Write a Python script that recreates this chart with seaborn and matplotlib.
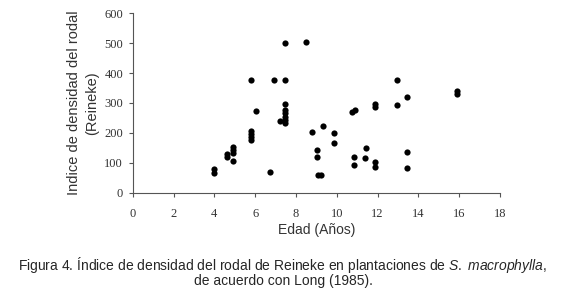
import pandas as pd
import matplotlib.pyplot as plt
import seaborn as sns

# Edad (años) vs. índice de densidad del rodal (Reineke)
edad = [4.0, 4.0, 4.6, 4.6, 4.9, 4.9, 4.9, 4.9,
        5.8, 5.8, 5.8, 5.8, 5.8, 6.05, 6.75, 6.9,
        7.45, 7.45, 7.45, 7.45, 7.45, 7.45, 7.45, 7.45, 7.2,
        8.5, 8.8, 9.05, 9.05, 9.1, 9.25, 9.3, 9.85, 9.85,
        10.75, 10.9, 10.85, 10.85, 11.4, 11.45,
        11.85, 11.85, 11.85, 11.85, 12.95, 12.95,
        13.45, 13.45, 13.45, 15.9, 15.9]
indice = [80, 65, 130, 120, 154, 143, 132, 105,
          377, 205, 195, 185, 175, 273, 68, 376,
          500, 377, 296, 277, 265, 254, 243, 234, 241,
          503, 202, 142, 120, 60, 60, 223, 199, 166,
          271, 276, 119, 94, 116, 150,
          102, 85, 297, 286, 378, 293,
          319, 136, 84, 341, 329]

x_ticks = [0, 2, 4, 6, 8, 10, 12, 14, 16, 18]
y_ticks = [0, 100, 200, 300, 400, 500, 600]

df = pd.DataFrame({"edad": edad, "indice": indice})

sns.set_style("white")
plt.rcParams["mathtext.fontset"] = "custom"
plt.rcParams["mathtext.rm"] = "Liberation Sans"
plt.rcParams["mathtext.it"] = "Liberation Sans:italic"

fig = plt.figure(figsize=(5.66, 3.07), dpi=100)
ax = fig.add_axes([0.2345, 0.3723, 0.649, 0.5844])

sns.scatterplot(data=df, x="edad", y="indice", ax=ax, color="black",
                s=20, edgecolor="black", linewidth=0)

ax.set_xlim(0, 18)
ax.set_ylim(0, 600)
ax.set_xticks(x_ticks)
ax.set_yticks(y_ticks)
ax.set_xticklabels([str(t) for t in x_ticks], family="Liberation Serif", fontsize=9, color="#333333")
ax.set_yticklabels([str(t) for t in y_ticks], family="Liberation Serif", fontsize=9, color="#333333")
ax.tick_params(axis="both", direction="out", length=3, width=0.8, color="#555555",
               bottom=True, left=True, pad=4)
ax.tick_params(axis="x", pad=8)

for side in ["top", "right"]:
    ax.spines[side].set_visible(False)
for side in ["left", "bottom"]:
    ax.spines[side].set_color("#555555")
    ax.spines[side].set_linewidth(0.8)

ax.set_xlabel("Edad (Años)", family="Liberation Sans", fontsize=10, color="#333333", labelpad=2)
ax.set_ylabel("Indice de densidad del rodal\n(Reineke)", family="Liberation Sans",
              fontsize=10.5, color="#333333", labelpad=4, linespacing=1.3)

fig.text(0.5, 0.137,
         "Figura 4. Índice de densidad del rodal de Reineke en plantaciones de $\\mathit{S.\\ macrophylla}$,",
         ha="center", va="center", family="Liberation Sans", fontsize=10)
fig.text(0.5, 0.085, "de acuerdo con Long (1985).",
         ha="center", va="center", family="Liberation Sans", fontsize=10)

plt.savefig("out.png", dpi=100)
plt.close()
